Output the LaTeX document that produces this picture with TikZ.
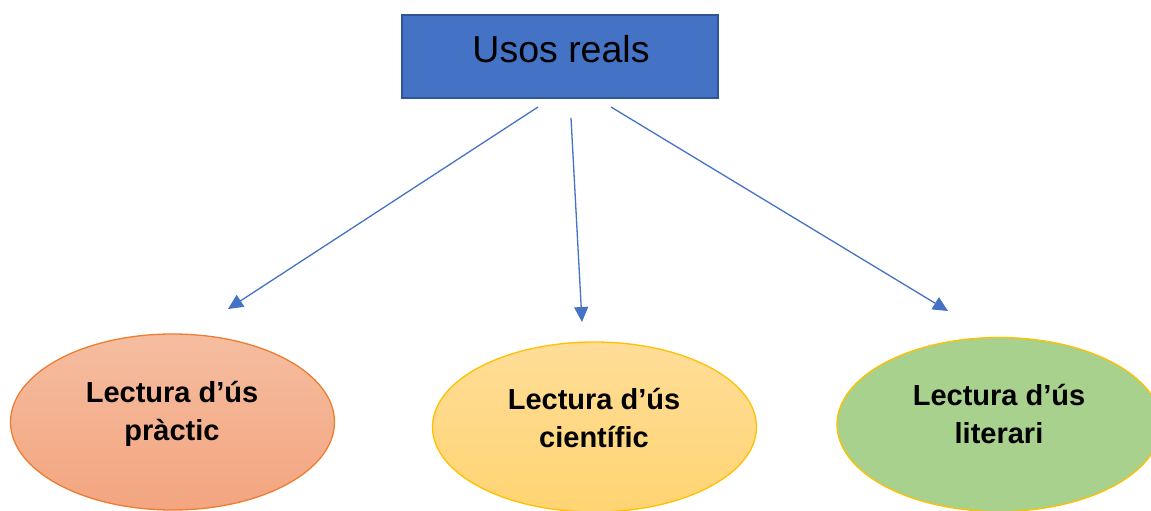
\documentclass[tikz,border=0pt]{standalone}
\usepackage{fontspec}
\setmainfont{Liberation Sans}
\usetikzlibrary{shapes.geometric,arrows.meta}
\definecolor{boxblue}{HTML}{4472C4}
\definecolor{boxedge}{HTML}{2F5597}
\definecolor{arrowblue}{HTML}{4472C4}
\definecolor{orangeedge}{HTML}{ED7D31}
\definecolor{orangetop}{HTML}{F5BDA0}
\definecolor{orangebot}{HTML}{F3A57F}
\definecolor{goldedge}{HTML}{FFC000}
\definecolor{goldtop}{HTML}{FFDD98}
\definecolor{goldbot}{HTML}{FFD472}
\definecolor{greenfill}{HTML}{A9D18E}
\tikzset{
  topbox/.style={draw=boxedge, line width=1.5pt, fill=boxblue, minimum width=316pt, minimum height=83pt, inner sep=0pt},
  oval/.style={ellipse, line width=1.3pt, minimum width=324pt, minimum height=176pt, inner sep=0pt},
  ovaltext/.style={align=center, inner sep=0pt, font=\fontsize{29}{38}\selectfont\bfseries},
  conn/.style={draw=arrowblue, line width=1.3pt, -{Triangle[length=15pt,width=14pt]}}
}
\begin{document}
\begin{tikzpicture}[x=1pt,y=-1pt]
\useasboundingbox (0,0) rectangle (1151,511);
\clip (0,0) rectangle (1151,511);
\node[topbox] (top) at (560,56.5) {};
\node[anchor=base, inner sep=0pt, font=\fontsize{37.5}{40}\selectfont] (toptext) at (561,63) {Usos reals};
\node[oval, draw=orangeedge, top color=orangetop, bottom color=orangebot] (e1) at (172.5,422) {};
\node[ovaltext] (t1) at (172,414) {Lectura d’ús\\pràctic};
\node[oval, draw=goldedge, top color=goldtop, bottom color=goldbot, minimum height=170pt] (e2) at (594.5,427) {};
\node[ovaltext] (t2) at (594,418.5) {Lectura d’ús\\científic};
\node[oval, draw=goldedge, fill=greenfill, minimum height=174pt] (e3) at (999,424.5) {};
\node[ovaltext] (t3) at (999,414) {Lectura d’ús\\literari};
\coordinate (s1) at (538,107);
\coordinate (s2) at (571,118);
\coordinate (s3) at (611,107);
\coordinate (d1) at (228,309);
\coordinate (d2) at (582,322);
\coordinate (d3) at (948,311);
\draw[conn] (s1) -- (d1);
\draw[conn] (s2) -- (d2);
\draw[conn] (s3) -- (d3);
\end{tikzpicture}
\end{document}
